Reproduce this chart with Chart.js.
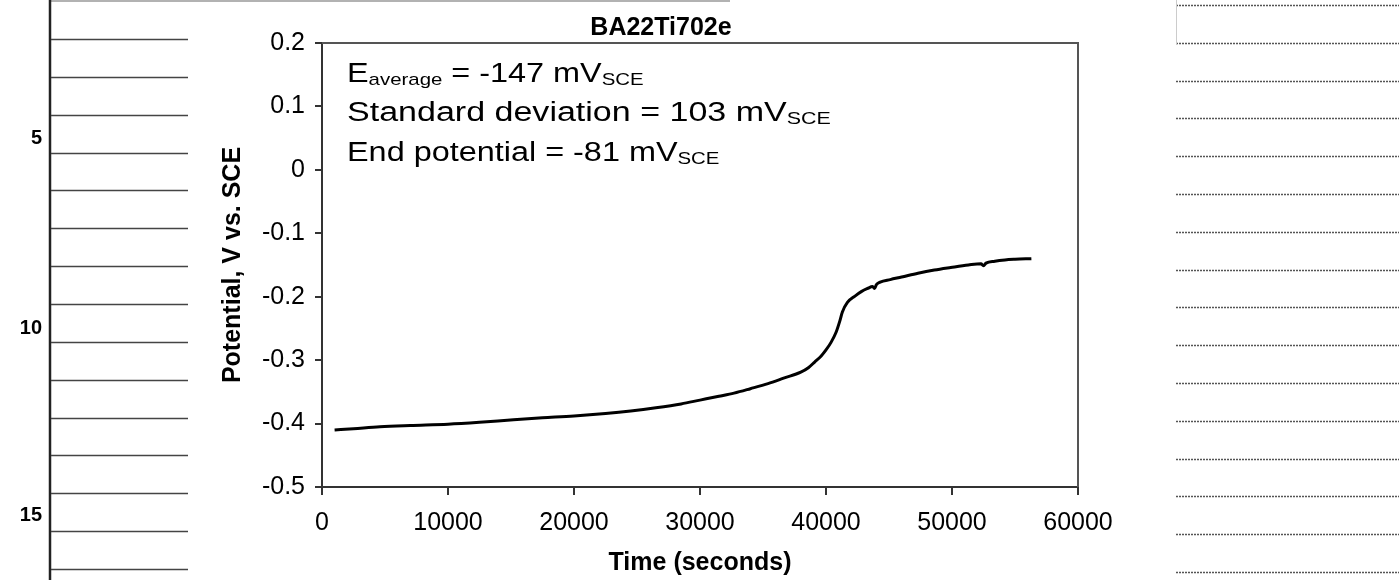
<!DOCTYPE html>
<html>
<head>
<meta charset="utf-8">
<script src="https://cdn.jsdelivr.net/npm/chart.js@4.4.1/dist/chart.umd.min.js"></script>
<style>
  html, body { margin: 0; padding: 0; background: #fff; }
  #wrap { position: relative; width: 1399px; height: 580px; }
  canvas { display: block; }
</style>
</head>
<body>
<div id="wrap"><canvas id="c" width="1399" height="580"></canvas></div>
<script>
// ---------- data ----------
const chartTitle = 'BA22Ti702e';
const xAxisTitle = 'Time (seconds)';
const yAxisTitle = 'Potential, V vs. SCE';
const xTickValues = [0, 10000, 20000, 30000, 40000, 50000, 60000];
const yTickValues = [0.2, 0.1, 0, -0.1, -0.2, -0.3, -0.4, -0.5];
const timeSeconds = [1000, 2500, 4600, 7000, 10000, 12500, 15200, 17500, 20000, 22500,
  24500, 26500, 28500, 30000, 31500, 32700, 34000, 35400, 36700, 38000,
  38600, 39100, 39600, 40000, 40400, 40800, 41100, 41300, 41700, 42300,
  42800, 43300, 43700, 43850, 44000, 44300, 45100, 46000, 47300, 48600,
  49900, 51300, 52300, 52500, 52700, 53400, 54200, 55000, 56300];
const potentialV = [-0.410, -0.408, -0.405, -0.403, -0.401, -0.398, -0.394, -0.391, -0.388, -0.384,
  -0.380, -0.375, -0.369, -0.363, -0.357, -0.352, -0.345, -0.337, -0.328, -0.319,
  -0.312, -0.303, -0.294, -0.284, -0.272, -0.256, -0.238, -0.224, -0.209, -0.199,
  -0.192, -0.187, -0.184, -0.187, -0.181, -0.177, -0.173, -0.169, -0.163, -0.158,
  -0.154, -0.150, -0.148, -0.151, -0.147, -0.144, -0.142, -0.141, -0.140];
const statMain = ['E', 'Standard deviation = 103 mV', 'End potential = -81 mV'];
const statSubA = ['average', 'SCE', 'SCE'];
const statMid = [' = -147 mV', '', ''];
const statSubB = ['SCE', '', ''];
const marginNumbers = ['5', '10', '15'];

// ---------- page decoration (scanned page margins) ----------
const pageDecor = {
  id: 'pageDecor',
  beforeDraw(chart) {
    const ctx = chart.ctx;
    ctx.save();
    ctx.fillStyle = '#fff';
    ctx.fillRect(0, 0, chart.width, chart.height);
    // top rule
    ctx.strokeStyle = '#999';
    ctx.lineWidth = 1.5;
    ctx.beginPath(); ctx.moveTo(50, 1); ctx.lineTo(730, 1); ctx.stroke();
    // left vertical rule
    ctx.strokeStyle = '#222';
    ctx.lineWidth = 2.5;
    ctx.beginPath(); ctx.moveTo(50, 0); ctx.lineTo(50, 580); ctx.stroke();
    // left horizontal rules
    ctx.strokeStyle = '#444';
    ctx.lineWidth = 1.5;
    for (let i = 0; i < 15; i++) {
      const y = Math.round(39 + i * 37.86) + 0.5;
      ctx.beginPath(); ctx.moveTo(51, y); ctx.lineTo(188, y); ctx.stroke();
    }
    // margin line numbers
    ctx.fillStyle = '#000';
    ctx.font = 'bold 20px "Liberation Sans", Arial, sans-serif';
    ctx.textAlign = 'right';
    ctx.textBaseline = 'middle';
    const numY = [138, 328, 515];
    marginNumbers.forEach((t, i) => ctx.fillText(t, 42, numY[i]));
    // right side rules
    ctx.strokeStyle = '#555';
    ctx.lineWidth = 1.5;
    ctx.setLineDash([2, 1]);
    for (let i = 0; i < 16; i++) {
      const y = Math.round(5 + i * 37.8) + 0.5;
      ctx.beginPath(); ctx.moveTo(1176, y); ctx.lineTo(1399, y); ctx.stroke();
    }
    ctx.setLineDash([]);
    ctx.strokeStyle = '#ccc';
    ctx.lineWidth = 1;
    ctx.beginPath(); ctx.moveTo(1176.5, 0); ctx.lineTo(1176.5, 45); ctx.stroke();
    ctx.restore();
  }
};

// ---------- plot frame (top/right) + statistics text ----------
const frameAndStats = {
  id: 'frameAndStats',
  afterDatasetsDraw(chart) {
    const {ctx, chartArea: a} = chart;
    ctx.save();
    ctx.strokeStyle = '#555';
    ctx.lineWidth = 2;
    ctx.beginPath();
    ctx.moveTo(a.left, a.top); ctx.lineTo(a.right, a.top); ctx.lineTo(a.right, a.bottom);
    ctx.stroke();

    const sxs = [1.2, 1.26, 1.2];
    const mainFont = '27px "Liberation Sans", Arial, sans-serif';
    const subFont = '17px "Liberation Sans", Arial, sans-serif';
    ctx.fillStyle = '#000';
    ctx.textAlign = 'left';
    ctx.textBaseline = 'alphabetic';
    const baseOffsets = [39, 78, 118];
    statMain.forEach((txt, i) => {
      ctx.save();
      ctx.translate(a.left + 25, a.top + baseOffsets[i]);
      ctx.scale(sxs[i], 1);
      let x = 0;
      ctx.font = mainFont; ctx.fillText(txt, x, 0); x += ctx.measureText(txt).width;
      if (statSubA[i]) { ctx.font = subFont; ctx.fillText(statSubA[i], x, 3); x += ctx.measureText(statSubA[i]).width; }
      if (statMid[i]) { ctx.font = mainFont; ctx.fillText(statMid[i], x, 0); x += ctx.measureText(statMid[i]).width; }
      if (statSubB[i]) { ctx.font = subFont; ctx.fillText(statSubB[i], x, 3); }
      ctx.restore();
    });
    ctx.restore();
  }
};

const fontFam = '"Liberation Sans", Arial, Helvetica, sans-serif';
const axisColor = '#333';

new Chart(document.getElementById('c'), {
  type: 'line',
  data: {
    datasets: [{
      data: timeSeconds.map((t, i) => ({x: t, y: potentialV[i]})),
      borderColor: '#000',
      borderWidth: 3,
      pointRadius: 0,
      cubicInterpolationMode: 'monotone',
      fill: false
    }]
  },
  options: {
    responsive: false,
    animation: false,
    layout: { padding: { left: 0, right: 77, top: 0, bottom: 0 } },
    plugins: {
      legend: { display: false },
      tooltip: { enabled: false },
      title: {
        display: true,
        text: chartTitle,
        color: '#000',
        font: { family: fontFam, size: 25, weight: 'bold', lineHeight: 1.2 },
        padding: { top: 13, bottom: 0 }
      }
    },
    scales: {
      x: {
        type: 'linear',
        min: 0, max: 60000,
        afterBuildTicks: s => { s.ticks = xTickValues.map(v => ({value: v})); },
        afterFit: s => { s.height = 93; },
        ticks: {
          color: '#000',
          font: { family: fontFam, size: 25 },
          padding: 13,
          maxRotation: 0,
          autoSkip: false,
          callback: v => String(v)
        },
        grid: { drawOnChartArea: false, drawTicks: true, tickLength: 8, color: axisColor, lineWidth: 2 },
        border: { display: true, color: axisColor, width: 2 },
        title: {
          display: true, text: xAxisTitle, color: '#000',
          font: { family: fontFam, size: 25, weight: 'bold', lineHeight: 1.2 },
          padding: { top: 0, bottom: 2 }
        }
      },
      y: {
        type: 'linear',
        position: 'left',
        min: -0.5, max: 0.2,
        afterBuildTicks: s => { s.ticks = yTickValues.map(v => ({value: v})); },
        afterFit: s => { s.width = 322; },
        ticks: {
          color: '#000',
          font: { family: fontFam, size: 25 },
          padding: 10,
          autoSkip: false,
          callback: v => { const r = Math.round(v * 10) / 10; return (r === 0 ? 0 : r).toString(); }
        },
        grid: { drawOnChartArea: false, drawTicks: true, tickLength: 7, color: axisColor, lineWidth: 2 },
        border: { display: true, color: axisColor, width: 2 },
        title: {
          display: true, text: yAxisTitle, color: '#000',
          font: { family: fontFam, size: 25, weight: 'bold', lineHeight: 1.2 },
          padding: { top: 218, bottom: 0 }
        }
      },
      ySpacer: {
        type: 'linear',
        position: 'right',
        display: true,
        afterFit: s => { s.width = 244; },
        ticks: { display: false },
        grid: { display: false, drawTicks: false },
        border: { display: false },
        title: { display: false }
      }
    }
  },
  plugins: [pageDecor, frameAndStats]
});
</script>
</body>
</html>
